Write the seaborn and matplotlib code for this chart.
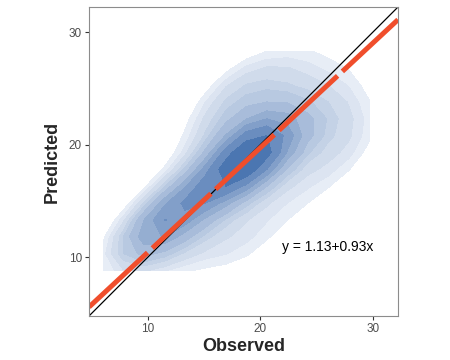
import numpy as np
import pandas as pd
import seaborn as sns
import matplotlib.pyplot as plt
from matplotlib.colors import LinearSegmentedColormap

# observed / predicted pairs (read roughly off the density shape)
observed = [18.7, 18.5, 19, 18.2, 19.3, 18.8, 19.5, 18,
            17, 20.5, 19, 18, 21, 16.5, 20.5, 17,
            15, 22, 19, 20, 23, 15, 22, 17, 21, 24,
            12, 12.5, 11.5, 13, 12, 13.5, 11,
            9, 10, 8, 9.5, 14, 16, 15, 10, 12,
            16, 18, 21, 23, 24, 20, 14, 25, 17,
            26, 28, 29.7, 29, 27, 25, 23, 20, 26, 28, 27, 28,
            17, 18.5, 12, 6, 9]
predicted = [18.7, 19, 18.3, 18.5, 19.2, 17.8, 18.6, 19.3,
             18, 19.5, 21, 16.5, 17.5, 19.5, 21, 16,
             17, 20, 23, 15, 22, 21, 17, 22, 24, 20,
             14, 13.5, 14.5, 13, 13, 14.5, 13.5,
             11, 12, 12, 10, 11, 11, 12.5, 15.5, 16.5,
             25, 27, 28, 27, 25, 26, 22, 28.3, 24,
             22, 24, 22, 19, 18, 16, 14, 11, 25, 27, 22, 20.5,
             10, 10.5, 9, 11, 8.8]

intercept, slope = 1.13, 0.93
x_ticks = [10, 20, 30]
y_ticks = [10, 20, 30]
lims = (4.75, 32.25)

df = pd.DataFrame({"Observed": observed, "Predicted": predicted})

sns.set_style("white")
plt.rcParams['font.family'] = ['Liberation Sans', 'DejaVu Sans']

fig = plt.figure(figsize=(4.5, 3.6), dpi=100)
ax = fig.add_axes([89 / 450, 44 / 360, 309 / 450, 309 / 360])

blues = LinearSegmentedColormap.from_list("b", ["#EDF1F8", "#3A69AA"])
sns.kdeplot(data=df, x="Observed", y="Predicted", fill=True, cmap=blues,
            levels=11, thresh=0.11, cut=0, gridsize=14, bw_adjust=1.0, ax=ax)

ax.axline((0, 0), slope=1, color="black", lw=0.9)
ax.axline((0, intercept), slope=slope, color="#F04E2C", lw=3.6,
          dashes=(16, 1.3), solid_capstyle="butt")

ax.text(26, 10.9, f"y = {intercept}+{slope}x", ha="center", va="center",
        fontsize=10, color="black")

ax.set_xlim(lims)
ax.set_ylim(lims)
ax.set_xticks(x_ticks)
ax.set_yticks(y_ticks)
ax.tick_params(axis="both", length=3, width=0.8, color="#333333",
               labelcolor="#4D4D4D", labelsize=8.5, direction="out", pad=2,
               bottom=True, left=True)
for s in ax.spines.values():
    s.set_color("#8C8C8C")
    s.set_linewidth(0.8)
ax.set_xlabel("Observed", fontsize=13, fontweight="bold", labelpad=2)
ax.set_ylabel("Predicted", fontsize=13, fontweight="bold", labelpad=6)

fig.savefig("out.png", dpi=100)
